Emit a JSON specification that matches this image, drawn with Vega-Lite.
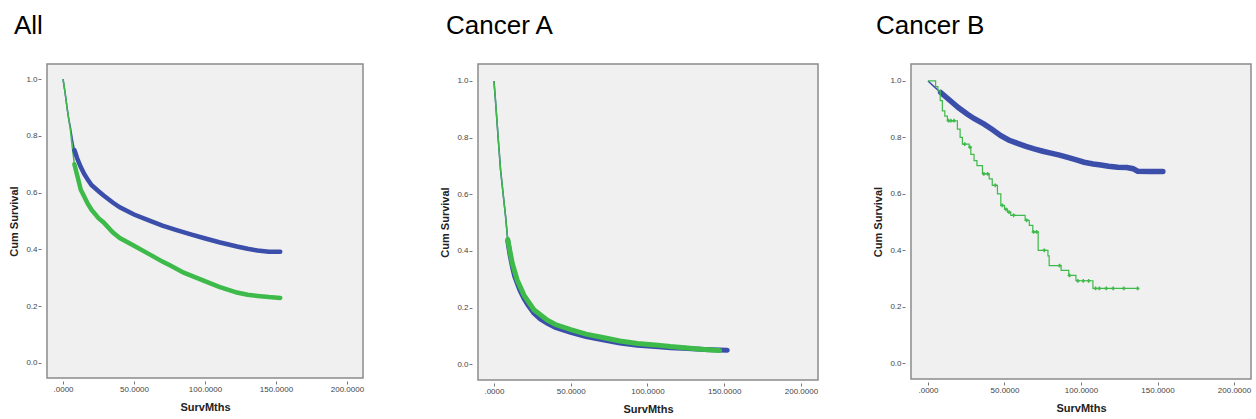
{
  "$schema": "https://vega.github.io/schema/vega-lite/v6.json",
  "padding": {"left": 8, "top": 12, "right": 4, "bottom": 2},
  "background": "white",
  "config": {
    "view": {"fill": "#f0f0f0", "stroke": "#8a8a8a", "strokeWidth": 1.5},
    "font": "Liberation Sans",
    "axis": {"labelFont": "Liberation Sans", "titleFont": "Liberation Sans", "labelFontSize": 8, "labelColor": "#444", "titleFontSize": 11, "titleFontWeight": "bold", "titleColor": "#222", "domain": false, "grid": false, "tickColor": "#777", "tickSize": 3},
    "title": {"font": "Liberation Sans", "fontSize": 26, "fontWeight": "normal", "color": "#000", "anchor": "start", "frame": "group"},
    "legend": {"disable": true}
  },
  "datasets": {
    "all": [
      {"group": "Group 1", "t": 0, "s": 1}, {"group": "Group 1", "t": 1.5, "s": 0.95}, {"group": "Group 1", "t": 2.8, "s": 0.9}, {"group": "Group 1", "t": 4, "s": 0.86}, {"group": "Group 1", "t": 5.2, "s": 0.83}, {"group": "Group 1", "t": 6.5, "s": 0.79}, {"group": "Group 1", "t": 8, "s": 0.75}, {"group": "Group 1", "t": 10, "s": 0.72}, {"group": "Group 1", "t": 12.5, "s": 0.69}, {"group": "Group 1", "t": 15, "s": 0.665}, {"group": "Group 1", "t": 17.5, "s": 0.645}, {"group": "Group 1", "t": 20, "s": 0.627}, {"group": "Group 1", "t": 25, "s": 0.605}, {"group": "Group 1", "t": 28.6, "s": 0.59}, {"group": "Group 1", "t": 35, "s": 0.565}, {"group": "Group 1", "t": 40, "s": 0.548}, {"group": "Group 1", "t": 50, "s": 0.523}, {"group": "Group 1", "t": 60, "s": 0.503}, {"group": "Group 1", "t": 70, "s": 0.484}, {"group": "Group 1", "t": 80, "s": 0.468}, {"group": "Group 1", "t": 90, "s": 0.453}, {"group": "Group 1", "t": 99, "s": 0.44}, {"group": "Group 1", "t": 110, "s": 0.425}, {"group": "Group 1", "t": 122.5, "s": 0.41}, {"group": "Group 1", "t": 130, "s": 0.402}, {"group": "Group 1", "t": 137, "s": 0.396}, {"group": "Group 1", "t": 145, "s": 0.392}, {"group": "Group 1", "t": 153, "s": 0.392},
      {"group": "Group 2", "t": 0, "s": 1}, {"group": "Group 2", "t": 1.5, "s": 0.95}, {"group": "Group 2", "t": 2.8, "s": 0.9}, {"group": "Group 2", "t": 4, "s": 0.86}, {"group": "Group 2", "t": 5.2, "s": 0.82}, {"group": "Group 2", "t": 6.5, "s": 0.76}, {"group": "Group 2", "t": 8, "s": 0.7}, {"group": "Group 2", "t": 10, "s": 0.66}, {"group": "Group 2", "t": 12.5, "s": 0.61}, {"group": "Group 2", "t": 15, "s": 0.585}, {"group": "Group 2", "t": 17, "s": 0.565}, {"group": "Group 2", "t": 20, "s": 0.54}, {"group": "Group 2", "t": 25, "s": 0.51}, {"group": "Group 2", "t": 28.6, "s": 0.495}, {"group": "Group 2", "t": 35, "s": 0.46}, {"group": "Group 2", "t": 40, "s": 0.44}, {"group": "Group 2", "t": 50, "s": 0.413}, {"group": "Group 2", "t": 60, "s": 0.385}, {"group": "Group 2", "t": 70, "s": 0.357}, {"group": "Group 2", "t": 75.6, "s": 0.343}, {"group": "Group 2", "t": 85, "s": 0.318}, {"group": "Group 2", "t": 99, "s": 0.29}, {"group": "Group 2", "t": 110, "s": 0.268}, {"group": "Group 2", "t": 122.5, "s": 0.248}, {"group": "Group 2", "t": 130, "s": 0.24}, {"group": "Group 2", "t": 137, "s": 0.236}, {"group": "Group 2", "t": 145, "s": 0.232}, {"group": "Group 2", "t": 153, "s": 0.229}
    ],
    "a": [
      {"group": "Group 1", "t": 0, "s": 1}, {"group": "Group 1", "t": 1, "s": 0.93}, {"group": "Group 1", "t": 2.2, "s": 0.84}, {"group": "Group 1", "t": 3, "s": 0.78}, {"group": "Group 1", "t": 4.3, "s": 0.686}, {"group": "Group 1", "t": 6, "s": 0.6}, {"group": "Group 1", "t": 7.6, "s": 0.52}, {"group": "Group 1", "t": 9, "s": 0.435}, {"group": "Group 1", "t": 10.5, "s": 0.385}, {"group": "Group 1", "t": 12, "s": 0.344}, {"group": "Group 1", "t": 13.5, "s": 0.31}, {"group": "Group 1", "t": 15.2, "s": 0.285}, {"group": "Group 1", "t": 17, "s": 0.26}, {"group": "Group 1", "t": 19.6, "s": 0.232}, {"group": "Group 1", "t": 22, "s": 0.21}, {"group": "Group 1", "t": 26, "s": 0.18}, {"group": "Group 1", "t": 30, "s": 0.16}, {"group": "Group 1", "t": 34.8, "s": 0.144}, {"group": "Group 1", "t": 40, "s": 0.13}, {"group": "Group 1", "t": 50, "s": 0.112}, {"group": "Group 1", "t": 60, "s": 0.097}, {"group": "Group 1", "t": 71.7, "s": 0.085}, {"group": "Group 1", "t": 82, "s": 0.075}, {"group": "Group 1", "t": 93.5, "s": 0.067}, {"group": "Group 1", "t": 105, "s": 0.062}, {"group": "Group 1", "t": 115, "s": 0.058}, {"group": "Group 1", "t": 126, "s": 0.055}, {"group": "Group 1", "t": 137, "s": 0.052}, {"group": "Group 1", "t": 152, "s": 0.049},
      {"group": "Group 2", "t": 0, "s": 1}, {"group": "Group 2", "t": 1, "s": 0.93}, {"group": "Group 2", "t": 2.2, "s": 0.84}, {"group": "Group 2", "t": 3, "s": 0.78}, {"group": "Group 2", "t": 4.3, "s": 0.686}, {"group": "Group 2", "t": 6, "s": 0.6}, {"group": "Group 2", "t": 7.6, "s": 0.52}, {"group": "Group 2", "t": 9, "s": 0.44}, {"group": "Group 2", "t": 10.5, "s": 0.395}, {"group": "Group 2", "t": 12, "s": 0.355}, {"group": "Group 2", "t": 15.2, "s": 0.296}, {"group": "Group 2", "t": 19.6, "s": 0.243}, {"group": "Group 2", "t": 26, "s": 0.192}, {"group": "Group 2", "t": 34.8, "s": 0.155}, {"group": "Group 2", "t": 40, "s": 0.14}, {"group": "Group 2", "t": 50, "s": 0.122}, {"group": "Group 2", "t": 60, "s": 0.106}, {"group": "Group 2", "t": 71.7, "s": 0.093}, {"group": "Group 2", "t": 82, "s": 0.082}, {"group": "Group 2", "t": 93.5, "s": 0.073}, {"group": "Group 2", "t": 105, "s": 0.068}, {"group": "Group 2", "t": 115, "s": 0.062}, {"group": "Group 2", "t": 126, "s": 0.057}, {"group": "Group 2", "t": 137, "s": 0.052}, {"group": "Group 2", "t": 147, "s": 0.048}
    ],
    "b1": [
      {"group": "Group 1", "t": 0, "s": 1}, {"group": "Group 1", "t": 4, "s": 0.98}, {"group": "Group 1", "t": 8.3, "s": 0.959}, {"group": "Group 1", "t": 14.8, "s": 0.929}, {"group": "Group 1", "t": 20, "s": 0.905}, {"group": "Group 1", "t": 25.8, "s": 0.882}, {"group": "Group 1", "t": 30, "s": 0.867}, {"group": "Group 1", "t": 36.7, "s": 0.847}, {"group": "Group 1", "t": 42, "s": 0.828}, {"group": "Group 1", "t": 47.6, "s": 0.806}, {"group": "Group 1", "t": 53, "s": 0.79}, {"group": "Group 1", "t": 58.5, "s": 0.779}, {"group": "Group 1", "t": 64, "s": 0.768}, {"group": "Group 1", "t": 69.4, "s": 0.759}, {"group": "Group 1", "t": 75, "s": 0.751}, {"group": "Group 1", "t": 80.3, "s": 0.744}, {"group": "Group 1", "t": 86, "s": 0.737}, {"group": "Group 1", "t": 91.3, "s": 0.729}, {"group": "Group 1", "t": 97, "s": 0.72}, {"group": "Group 1", "t": 102, "s": 0.712}, {"group": "Group 1", "t": 108, "s": 0.706}, {"group": "Group 1", "t": 113, "s": 0.702}, {"group": "Group 1", "t": 118, "s": 0.698}, {"group": "Group 1", "t": 124, "s": 0.694}, {"group": "Group 1", "t": 130, "s": 0.693}, {"group": "Group 1", "t": 134, "s": 0.689}, {"group": "Group 1", "t": 137, "s": 0.68}, {"group": "Group 1", "t": 145, "s": 0.679}, {"group": "Group 1", "t": 153.5, "s": 0.679}
    ],
    "b2": [
      {"group": "Group 2", "t": 0, "s": 1}, {"group": "Group 2", "t": 5, "s": 0.98}, {"group": "Group 2", "t": 6.5, "s": 0.965}, {"group": "Group 2", "t": 8, "s": 0.93}, {"group": "Group 2", "t": 9.4, "s": 0.894}, {"group": "Group 2", "t": 11, "s": 0.875}, {"group": "Group 2", "t": 12.7, "s": 0.859}, {"group": "Group 2", "t": 19.2, "s": 0.829}, {"group": "Group 2", "t": 21, "s": 0.8}, {"group": "Group 2", "t": 22.5, "s": 0.776}, {"group": "Group 2", "t": 26.9, "s": 0.765}, {"group": "Group 2", "t": 28, "s": 0.74}, {"group": "Group 2", "t": 30.1, "s": 0.718}, {"group": "Group 2", "t": 32, "s": 0.7}, {"group": "Group 2", "t": 35.6, "s": 0.671}, {"group": "Group 2", "t": 40, "s": 0.653}, {"group": "Group 2", "t": 42, "s": 0.63}, {"group": "Group 2", "t": 45.4, "s": 0.6}, {"group": "Group 2", "t": 47.6, "s": 0.559}, {"group": "Group 2", "t": 50, "s": 0.545}, {"group": "Group 2", "t": 52, "s": 0.535}, {"group": "Group 2", "t": 54.1, "s": 0.524}, {"group": "Group 2", "t": 63.5, "s": 0.506}, {"group": "Group 2", "t": 66.2, "s": 0.488}, {"group": "Group 2", "t": 68.5, "s": 0.465}, {"group": "Group 2", "t": 72, "s": 0.4}, {"group": "Group 2", "t": 78.4, "s": 0.38}, {"group": "Group 2", "t": 79.2, "s": 0.346}, {"group": "Group 2", "t": 87, "s": 0.329}, {"group": "Group 2", "t": 92, "s": 0.311}, {"group": "Group 2", "t": 96.7, "s": 0.292}, {"group": "Group 2", "t": 107.8, "s": 0.265}, {"group": "Group 2", "t": 137.5, "s": 0.265}
    ],
    "b2cens": [
      {"t": 13.5, "s": 0.859}, {"t": 15, "s": 0.859}, {"t": 17, "s": 0.859}, {"t": 24, "s": 0.776}, {"t": 27.5, "s": 0.765}, {"t": 36.5, "s": 0.671}, {"t": 39, "s": 0.671}, {"t": 44, "s": 0.63}, {"t": 48.5, "s": 0.559}, {"t": 51, "s": 0.545}, {"t": 53, "s": 0.535}, {"t": 56, "s": 0.524}, {"t": 64.5, "s": 0.506}, {"t": 69, "s": 0.465}, {"t": 71, "s": 0.465}, {"t": 76, "s": 0.4}, {"t": 86, "s": 0.346}, {"t": 92.5, "s": 0.311}, {"t": 98, "s": 0.292}, {"t": 101.5, "s": 0.292}, {"t": 105, "s": 0.292}, {"t": 109.5, "s": 0.265}, {"t": 112, "s": 0.265}, {"t": 116.5, "s": 0.265}, {"t": 121, "s": 0.265}, {"t": 128, "s": 0.265}, {"t": 137, "s": 0.265}
    ]
  },
  "spacing": 74,
  "hconcat": [
    {
      "width": 316, "height": 314,
      "title": {"text": "All", "dx": -33, "offset": 25},
      "encoding": {
        "x": {"field": "t", "type": "quantitative", "scale": {"domain": [-11.3, 211.3], "nice": false, "zero": false}, "axis": {"values": [0, 50, 100, 150, 200], "labelExpr": "datum.value == 0 ? '.0000' : format(datum.value, '.4f')", "title": "SurvMths", "offset": 3, "labelPadding": 1, "titlePadding": 8}},
        "y": {"field": "s", "type": "quantitative", "scale": {"domain": [-0.053, 1.053], "nice": false, "zero": false}, "axis": {"values": [0, 0.2, 0.4, 0.6, 0.8, 1.0], "format": ".1f", "title": "Cum Survival", "offset": 6, "labelPadding": 1, "titlePadding": 6}},
        "color": {"field": "group", "type": "nominal", "scale": {"domain": ["Group 1", "Group 2"], "range": ["#3b4eaa", "#3dba49"]}}
      },
      "layer": [
        {"data": {"name": "all"}, "mark": {"type": "line", "strokeWidth": 1.5}},
        {"data": {"name": "all"}, "transform": [{"filter": {"field": "t", "gte": 8}}], "mark": {"type": "line", "strokeWidth": 4.5, "strokeCap": "round"}}
      ]
    },
    {
      "spacing": 53,
      "hconcat": [
        {
          "width": 340, "height": 316,
          "title": {"text": "Cancer A", "dx": -32, "offset": 25},
          "encoding": {
            "x": {"field": "t", "type": "quantitative", "scale": {"domain": [-10.4, 211.1], "nice": false, "zero": false}, "axis": {"values": [0, 50, 100, 150, 200], "labelExpr": "datum.value == 0 ? '.0000' : format(datum.value, '.4f')", "title": "SurvMths", "offset": 3, "labelPadding": 1, "titlePadding": 8}},
            "y": {"field": "s", "type": "quantitative", "scale": {"domain": [-0.056, 1.06], "nice": false, "zero": false}, "axis": {"values": [0, 0.2, 0.4, 0.6, 0.8, 1.0], "format": ".1f", "title": "Cum Survival", "offset": 6, "labelPadding": 1, "titlePadding": 6}},
            "color": {"field": "group", "type": "nominal", "scale": {"domain": ["Group 1", "Group 2"], "range": ["#3b4eaa", "#3dba49"]}}
          },
          "layer": [
            {"data": {"name": "a"}, "mark": {"type": "line", "strokeWidth": 1.5}},
            {"data": {"name": "a"}, "transform": [{"filter": {"field": "t", "gte": 9}}], "mark": {"type": "line", "strokeWidth": 5, "strokeCap": "round"}}
          ]
        },
        {
          "width": 340, "height": 315,
          "title": {"text": "Cancer B", "dx": -35, "offset": 25},
          "encoding": {
            "x": {"field": "t", "type": "quantitative", "scale": {"domain": [-11.1, 211.1], "nice": false, "zero": false}, "axis": {"values": [0, 50, 100, 150, 200], "labelExpr": "datum.value == 0 ? '.0000' : format(datum.value, '.4f')", "title": "SurvMths", "offset": 3, "labelPadding": 1, "titlePadding": 8}},
            "y": {"field": "s", "type": "quantitative", "scale": {"domain": [-0.056, 1.06], "nice": false, "zero": false}, "axis": {"values": [0, 0.2, 0.4, 0.6, 0.8, 1.0], "format": ".1f", "title": "Cum Survival", "offset": 6, "labelPadding": 1, "titlePadding": 6}}
          },
          "layer": [
            {"data": {"name": "b1"}, "mark": {"type": "line", "strokeWidth": 1.5, "color": "#3b4eaa"}},
            {"data": {"name": "b1"}, "transform": [{"filter": {"field": "t", "gte": 7}}], "mark": {"type": "line", "strokeWidth": 5.5, "strokeCap": "round", "color": "#3b4eaa"}},
            {"data": {"name": "b2"}, "mark": {"type": "line", "strokeWidth": 1.2, "interpolate": "step-after", "color": "#3dba49"}},
            {"data": {"name": "b2cens"}, "mark": {"type": "point", "shape": "cross", "size": 14, "filled": true, "color": "#3dba49", "opacity": 1}}
          ]
        }
      ]
    }
  ]
}
